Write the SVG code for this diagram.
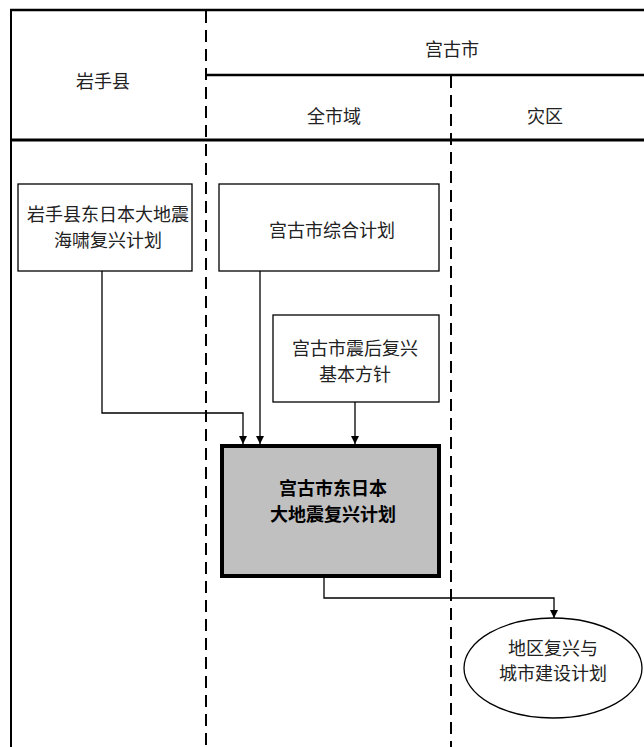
<svg xmlns="http://www.w3.org/2000/svg" width="644" height="747" viewBox="0 0 644 747">
<style>
text{font-family:"Noto Sans CJK SC","Liberation Serif",serif;font-size:18px;fill:#222;text-anchor:middle;dominant-baseline:central}
.b{font-weight:bold;fill:#000}
.frame{stroke:#000;fill:none}
.dash{stroke:#000;stroke-width:2;stroke-dasharray:12 7;fill:none}
.box{fill:#fff;stroke:#000;stroke-width:1.3}
.conn{stroke:#000;stroke-width:1.3;fill:none}
</style>
<defs>
<marker id="arr" viewBox="0 0 10 10" refX="10" refY="5" markerWidth="8" markerHeight="10" markerUnits="userSpaceOnUse" orient="auto">
<path d="M0,0 L10,5 L0,10 Z" fill="#000"/>
</marker>
</defs>
<rect width="644" height="747" fill="#fff"/>
<g id="frame">
<line class="frame" x1="10" y1="10" x2="644" y2="10" stroke-width="2.5"/>
<line class="frame" x1="11" y1="9" x2="11" y2="747" stroke-width="2"/>
<line class="frame" x1="206" y1="75" x2="644" y2="75" stroke-width="2.5"/>
<line class="frame" x1="10" y1="140" x2="644" y2="140" stroke-width="3"/>
<line class="dash" x1="206" y1="11" x2="206" y2="747"/>
<line class="dash" x1="451" y1="76" x2="451" y2="747"/>
<text x="103" y="80">岩手县</text>
<text x="452" y="48">宫古市</text>
<text x="334" y="115">全市域</text>
<text x="545" y="115">灾区</text>
</g>
<g id="connectors">
<polyline class="conn" points="102,271 102,413 243,413 243,444" marker-end="url(#arr)"/>
<line class="conn" x1="260" y1="271" x2="260" y2="444" marker-end="url(#arr)"/>
<line class="conn" x1="355" y1="402" x2="355" y2="444" marker-end="url(#arr)"/>
<polyline class="conn" points="324,578 324,598 554,598 554,618" marker-end="url(#arr)"/>
</g>
<g id="iwate-plan">
<rect class="box" x="18" y="184" width="174" height="87"/>
<text x="108" y="213">岩手县东日本大地震</text>
<text x="108" y="239">海啸复兴计划</text>
</g>
<g id="miyako-general">
<rect class="box" x="219" y="184" width="220" height="87"/>
<text x="332" y="229">宫古市综合计划</text>
</g>
<g id="miyako-policy">
<rect class="box" x="273" y="315" width="166" height="87"/>
<text x="355" y="347">宫古市震后复兴</text>
<text x="355" y="373">基本方针</text>
</g>
<g id="miyako-plan">
<rect x="222" y="446" width="217" height="130" fill="#c0c0c0" stroke="#000" stroke-width="4"/>
<text class="b" x="333" y="487">宫古市东日本</text>
<text class="b" x="333" y="513">大地震复兴计划</text>
</g>
<g id="area-plan">
<ellipse cx="553" cy="668" rx="89" ry="50" fill="#fff" stroke="#000" stroke-width="1.3"/>
<text x="553" y="647">地区复兴与</text>
<text x="553" y="672">城市建设计划</text>
</g>
</svg>
